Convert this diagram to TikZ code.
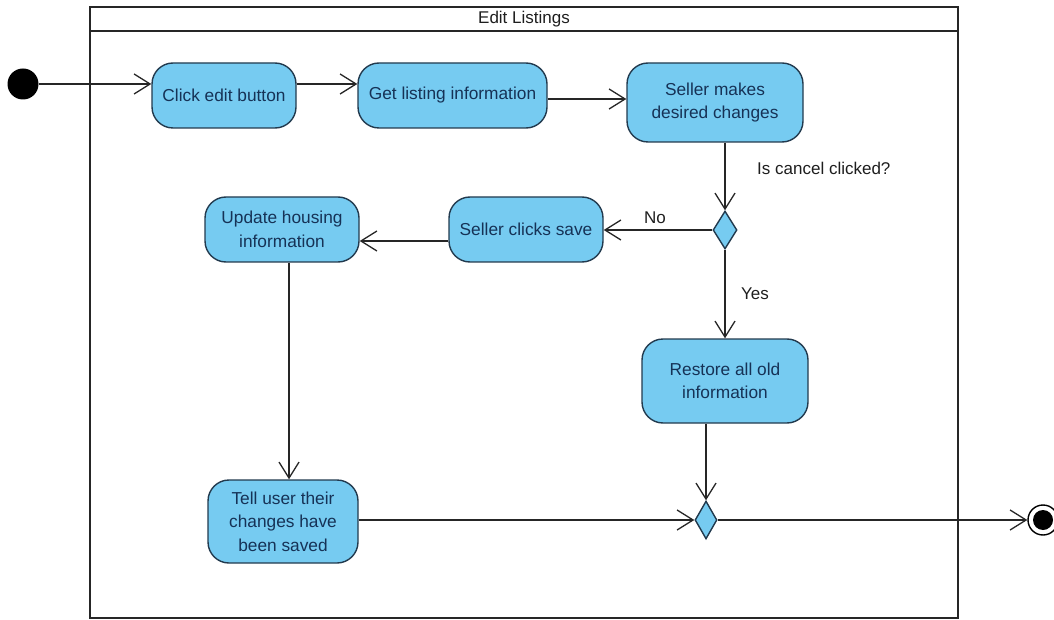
\documentclass[tikz,border=0pt]{standalone}
\usepackage{fontspec}
\setmainfont{Liberation Sans}
\usetikzlibrary{arrows.meta,shapes.geometric}
\definecolor{actfill}{RGB}{118,203,241}
\definecolor{actdraw}{RGB}{34,58,78}
\definecolor{acttext}{RGB}{22,50,86}
\definecolor{lbltext}{RGB}{30,30,30}
\begin{document}
\begin{tikzpicture}[x=1pt,y=-1pt,
  action/.style={draw=actdraw,fill=actfill,line width=1.4pt,rounded corners=21pt,
    inner sep=0pt,align=center,text=acttext,font=\fontsize{17.3}{23.5}\selectfont},
  decision/.style={diamond,draw=actdraw,fill=actfill,line width=1.4pt,inner sep=0pt},
  flow/.style={draw=black!85,line width=1.3pt,-{Straight Barb[length=16pt,width=20pt,line width=1.3pt]}},
  lbl/.style={text=lbltext,font=\fontsize{17}{20}\selectfont,inner sep=0pt},
  frame/.style={draw=black!85,line width=2.4pt}]
\useasboundingbox (0,0) rectangle (1054,620);

% activity frame with its title bar
\draw[frame] (90,7) rectangle (958,618);
\draw[frame] (90,31) -- (958,31);
\node[lbl] (title) at (524,19.5) {Edit Listings};

% initial and final nodes
\node[circle,fill=black,minimum size=31pt,inner sep=0pt] (init) at (23,84) {};
\node[circle,draw=black,fill=white,line width=1.4pt,minimum size=30pt,inner sep=0pt] (final) at (1043,520) {};
\node[circle,fill=black,minimum size=20pt,inner sep=0pt] (finalin) at (1043,520) {};

% actions
\node[action,minimum width=144pt,minimum height=65pt] (click) at (224,95.5) {Click edit button};
\node[action,minimum width=189pt,minimum height=65pt] (get) at (452.5,95.5) {Get listing information};
\node[action,minimum width=176pt,minimum height=79pt] (seller) at (715,102.5) {Seller makes\\desired changes};
\node[action,minimum width=154pt,minimum height=65pt] (save) at (526,229.5) {Seller clicks save};
\node[action,minimum width=154pt,minimum height=65pt] (update) at (282,229.5) {Update housing\\information};
\node[action,minimum width=166pt,minimum height=84pt] (restore) at (725,381) {Restore all old\\information};
\node[action,minimum width=150pt,minimum height=83pt] (tell) at (283,521.5) {Tell user their\\changes have\\been saved};

% decision and merge
\node[decision,minimum width=24pt,minimum height=38pt] (dec) at (725,230) {};
\node[decision,minimum width=22pt,minimum height=38pt] (merge) at (706,520) {};

% guard labels
\node[lbl,anchor=west] (qcancel) at (757,168) {Is cancel clicked?};
\node[lbl] (gno) at (655,218) {No};
\node[lbl] (gyes) at (755,294) {Yes};

% control flows
\draw[flow] (init.east) -- (init.east -| click.west);
\draw[flow] (click.east |- init.center) -- (get.west |- init.center);
\draw[flow] ([yshift=-3.5pt]get.east) -- ([yshift=-3.5pt]get.east -| seller.west);
\draw[flow] (dec.north |- seller.south) -- (dec.north);
\draw[flow] (dec.west) -- (dec.west -| save.east);
\draw[flow] ([yshift=-11.5pt]save.west) -- ([yshift=-11.5pt]save.west -| update.east);
\draw[flow] (dec.south) -- (dec.south |- restore.north);
\draw[flow] ([xshift=7pt]update.south) -- ([xshift=7pt]update.south |- tell.north);
\draw[flow] ([xshift=-19pt]restore.south) -- (merge.north);
\draw[flow] (tell.east |- merge.west) -- (merge.west);
\draw[flow] (merge.east) -- (final.west);
\end{tikzpicture}
\end{document}
